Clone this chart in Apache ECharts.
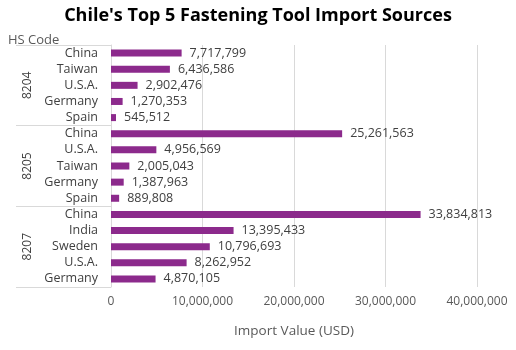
<!DOCTYPE html>
<html><head><meta charset="utf-8">
<script src="https://cdn.jsdelivr.net/npm/echarts@6/dist/echarts.min.js"></script>
<style>html,body{margin:0;padding:0;background:#fff}#c{width:516px;height:350px}</style>
</head><body><div id="c"></div>
<script>
const categories = ['China','Taiwan','U.S.A.','Germany','Spain','China','U.S.A.','Taiwan','Germany','Spain','China','India','Sweden','U.S.A.','Germany'];
const values = [7717799,6436586,2902476,1270353,545512,25261563,4956569,2005043,1387963,889808,33834813,13395433,10796693,8262952,4870105];
const groups = ['8204','8205','8207'];
const xTicks = [0,10000000,20000000,30000000,40000000];

const font = '"Open Sans", sans-serif';
const fmt = v => Number(v).toLocaleString('en-US');
const chart = echarts.init(document.getElementById('c'), null, {renderer:'canvas'});
chart.setOption({
  animation:false,
  backgroundColor:'#fff',
  title:[
    {text:"Chile's Top 5 Fastening Tool Import Sources", left:'center', top:2,
     textStyle:{fontFamily:font, fontWeight:'bold', fontSize:18, color:'#000'}},
    {text:'HS Code', left:3, top:29, textStyle:{fontFamily:font, fontWeight:'normal', fontSize:13, color:'#595959'}}
  ],
  grid:{left:111, right:39, top:45, bottom:63, containLabel:false},
  xAxis:{type:'value', min:xTicks[0], max:xTicks[xTicks.length-1], interval:xTicks[1]-xTicks[0],
    name:'Import Value (USD)', nameLocation:'middle', nameGap:37,
    nameTextStyle:{fontFamily:font, fontSize:13.5, color:'#595959'},
    axisLine:{show:false}, axisTick:{show:false},
    axisLabel:{fontFamily:font, fontSize:12, color:'#595959', margin:9, formatter:fmt},
    splitLine:{lineStyle:{color:'#d9d9d9', width:1}}},
  yAxis:[
    {type:'category', data:categories, inverse:true, position:'left',
     axisLine:{show:true, lineStyle:{color:'#d9d9d9'}}, axisTick:{show:false},
     axisLabel:{fontFamily:font, fontSize:12.5, color:'#404040', margin:13, interval:0}},
    {type:'category', data:groups, inverse:true, position:'left', offset:95,
     axisLine:{show:false},
     axisTick:{show:true, inside:true, length:95, lineStyle:{color:'#d9d9d9'}},
     axisLabel:{inside:true, rotate:90, margin:6, fontFamily:font, fontSize:12, color:'#404040'}}
  ],
  series:[{type:'bar', data:values, yAxisIndex:0, barWidth:7,
    itemStyle:{color:'#8C2A8C'},
    label:{show:true, position:'right', distance:8, formatter:p=>fmt(p.value),
      fontFamily:font, fontSize:12.5, color:'#404040'}}]
});
</script></body></html>
